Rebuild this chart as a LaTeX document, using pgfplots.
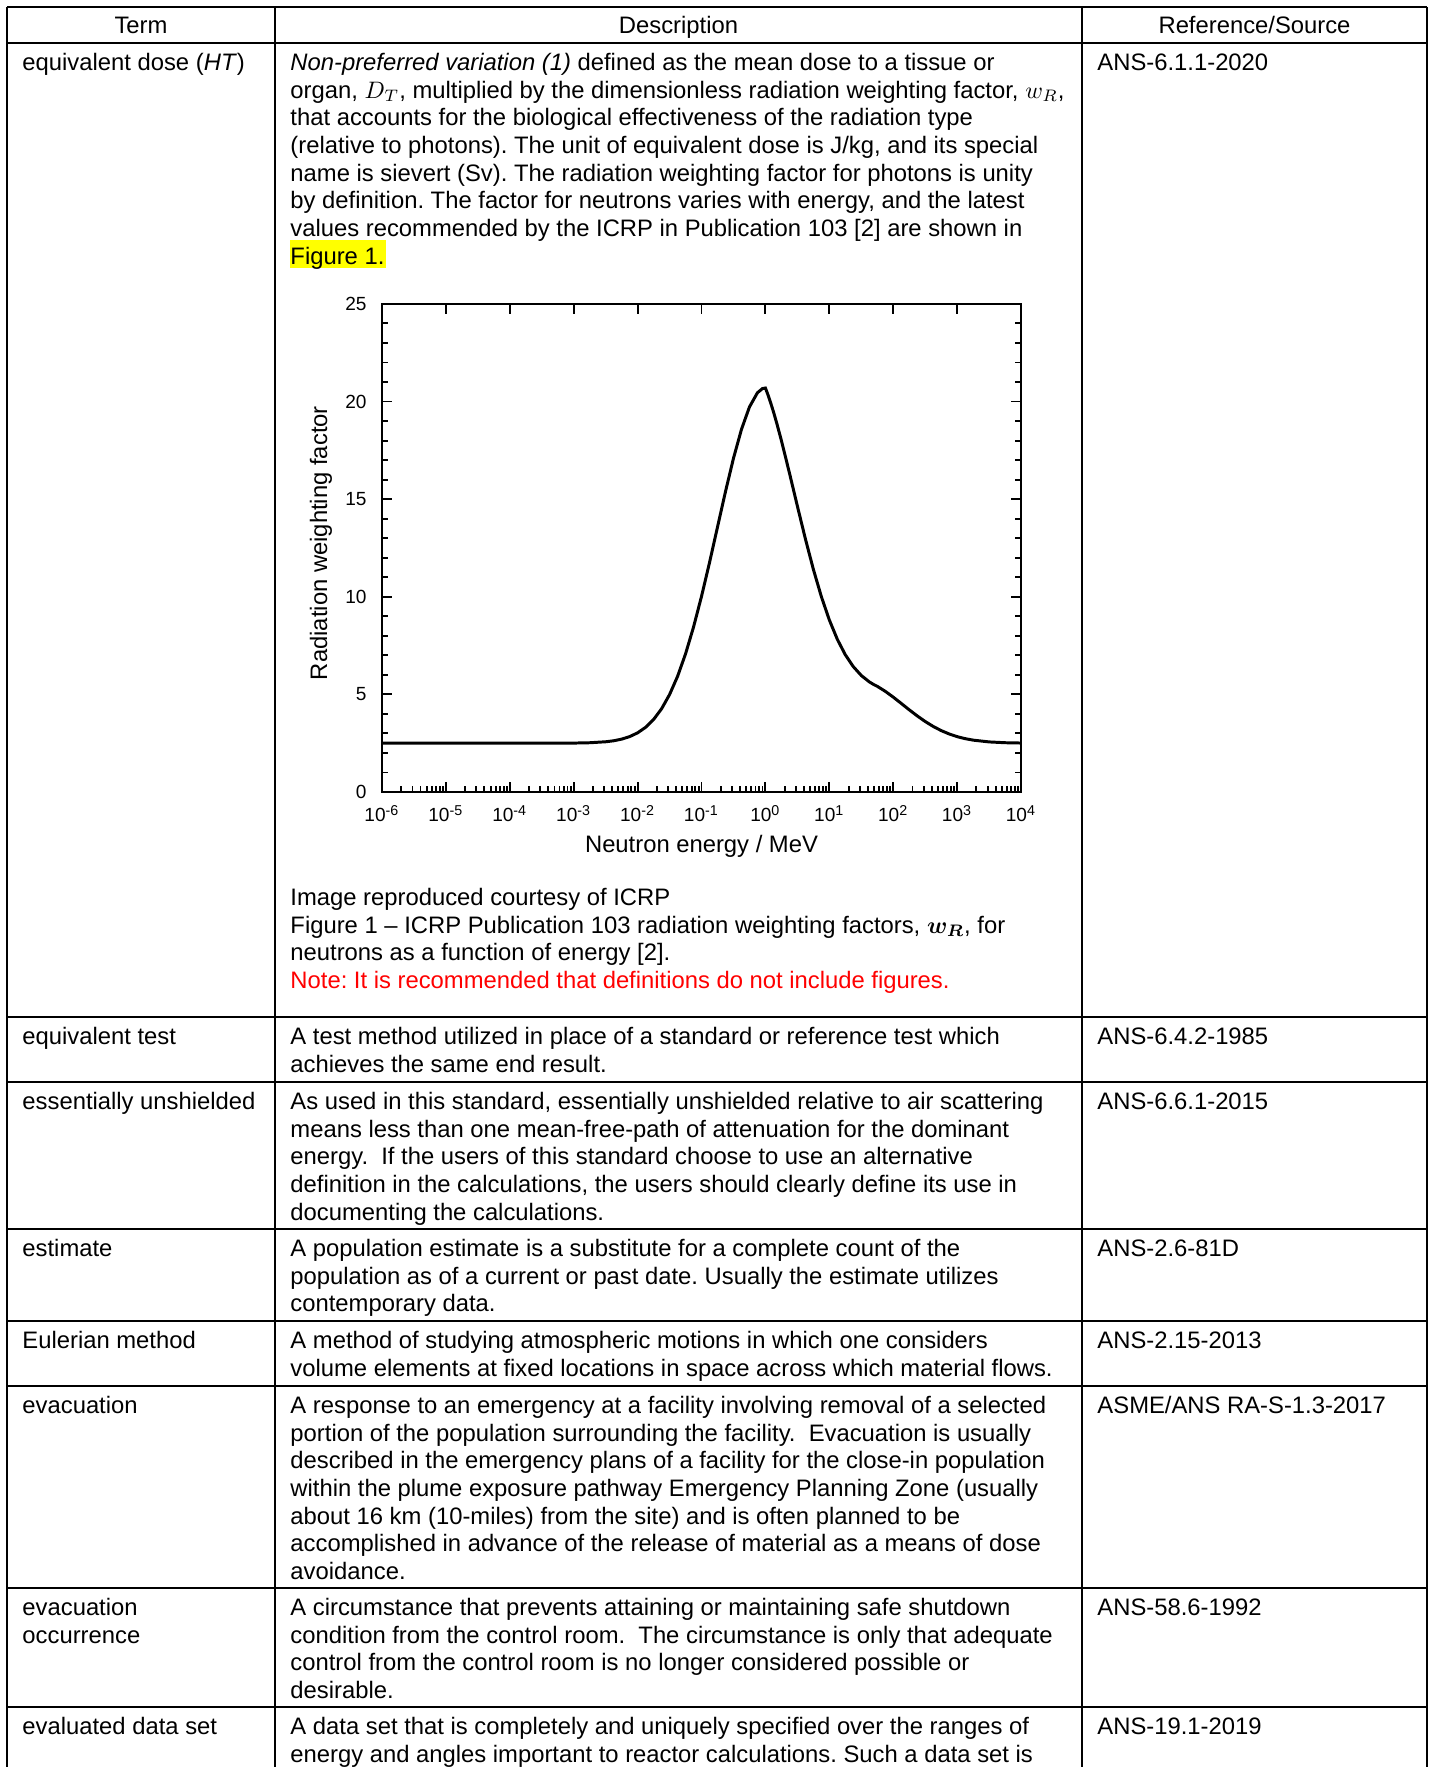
\documentclass[border=0pt]{standalone}
\usepackage{fontspec}
\setmainfont{Liberation Sans}
\usepackage{amsmath}
\usepackage{pgfplots}
\pgfplotsset{compat=1.18}
\definecolor{hl}{RGB}{255,255,0}
\definecolor{notered}{RGB}{255,0,0}
\frenchspacing
\newcommand\fs{\fontsize{10}{11.634}\selectfont}
% text block placed by the baseline of its first line (px units)
\newcommand\celltext[3]{\node[anchor=north west,inner sep=0pt,align=left,font=\fs] at (#1,#2-19.39) {\strut#3};}
\begin{document}
\begin{tikzpicture}
\begin{scope}[x=0.42pt,y=-0.42pt]
\useasboundingbox (0,0) rectangle (1431,1767);
\clip (0,0) rectangle (1431,1767);
% table rules
\foreach \yy in {7,1017,1082,1229,1321,1386,1588,1707}
  \draw[line width=0.85pt] (7,\yy) -- (1427,\yy);
\draw[line width=1.1pt] (7,43) -- (1427,43);
\foreach \xx in {7,275,1082,1427}
  \draw[line width=0.85pt] (\xx,7) -- (\xx,1790);
% header
\node[anchor=base,font=\fs] at (141,34) {Term};
\node[anchor=base,font=\fs] at (678.5,34) {Description};
\node[anchor=base,font=\fs] at (1254.5,34) {Reference/Source};
% row 1
\fill[hl] (290,240.5) rectangle (386,268.2);
\celltext{22}{70}{equivalent dose (\textit{HT})}
\celltext{290}{70}{\textit{Non-preferred variation (1)} defined as the mean dose to a tissue or\\
organ, $D_T$, multiplied by the dimensionless radiation weighting factor, $w_R$,\\
that accounts for the biological effectiveness of the radiation type\\
(relative to photons). The unit of equivalent dose is J/kg, and its special\\
name is sievert (Sv). The radiation weighting factor for photons is unity\\
by definition. The factor for neutrons varies with energy, and the latest\\
values recommended by the ICRP in Publication 103 [2] are shown in\\
Figure 1.}
\celltext{1097}{70}{ANS-6.1.1-2020}
\celltext{290}{905}{Image reproduced courtesy of ICRP\\
Figure 1 -- ICRP Publication 103 radiation weighting factors, $\boldsymbol{w_R}$, for\\
neutrons as a function of energy [2].\\
\textcolor{notered}{Note: It is recommended that definitions do not include figures.}}
% row 2
\celltext{22}{1044}{equivalent test}
\celltext{290}{1044}{A test method utilized in place of a standard or reference test which\\
achieves the same end result.}
\celltext{1097}{1044}{ANS-6.4.2-1985}
% row 3
\celltext{22}{1109}{essentially unshielded}
\celltext{290}{1109}{As used in this standard, essentially unshielded relative to air scattering\\
means less than one mean-free-path of attenuation for the dominant\\
energy.~ If the users of this standard choose to use an alternative\\
definition in the calculations, the users should clearly define its use in\\
documenting the calculations.}
\celltext{1097}{1109}{ANS-6.6.1-2015}
% row 4
\celltext{22}{1256}{estimate}
\celltext{290}{1256}{A population estimate is a substitute for a complete count of the\\
population as of a current or past date. Usually the estimate utilizes\\
contemporary data.}
\celltext{1097}{1256}{ANS-2.6-81D}
% row 5
\celltext{22}{1348}{Eulerian method}
\celltext{290}{1348}{A method of studying atmospheric motions in which one considers\\
volume elements at fixed locations in space across which material flows.}
\celltext{1097}{1348}{ANS-2.15-2013}
% row 6
\celltext{22}{1413}{evacuation}
\celltext{290}{1413}{A response to an emergency at a facility involving removal of a selected\\
portion of the population surrounding the facility.~ Evacuation is usually\\
described in the emergency plans of a facility for the close-in population\\
within the plume exposure pathway Emergency Planning Zone (usually\\
about 16 km (10-miles) from the site) and is often planned to be\\
accomplished in advance of the release of material as a means of dose\\
avoidance.}
\celltext{1097}{1413}{ASME/ANS RA-S-1.3-2017}
% row 7
\celltext{22}{1615}{evacuation\\occurrence}
\celltext{290}{1615}{A circumstance that prevents attaining or maintaining safe shutdown\\
condition from the control room.~ The circumstance is only that adequate\\
control from the control room is no longer considered possible or\\
desirable.}
\celltext{1097}{1615}{ANS-58.6-1992}
% row 8
\celltext{22}{1734}{evaluated data set}
\celltext{290}{1734}{A data set that is completely and uniquely specified over the ranges of\\
energy and angles important to reactor calculations. Such a data set is}
\celltext{1097}{1734}{ANS-19.1-2019}
\coordinate (axsw) at (382,792);
\end{scope}

% the figure
\begin{axis}[
  at={(axsw)}, anchor=south west,
  scale only axis, width=268.4pt, height=205pt,
  xmode=log, xmin=1e-6, xmax=1e4, ymin=0, ymax=25,
  xtick={1e-6,1e-5,1e-4,1e-3,1e-2,1e-1,1,1e1,1e2,1e3,1e4},
  xticklabels={10\textsuperscript{-6},10\textsuperscript{-5},10\textsuperscript{-4},10\textsuperscript{-3},10\textsuperscript{-2},10\textsuperscript{-1},10\textsuperscript{0},10\textsuperscript{1},10\textsuperscript{2},10\textsuperscript{3},10\textsuperscript{4}},
  minor xtick={2e-6,3e-6,4e-6,5e-6,6e-6,7e-6,8e-6,9e-6,
    2e-5,3e-5,4e-5,5e-5,6e-5,7e-5,8e-5,9e-5,
    2e-4,3e-4,4e-4,5e-4,6e-4,7e-4,8e-4,9e-4,
    2e-3,3e-3,4e-3,5e-3,6e-3,7e-3,8e-3,9e-3,
    2e-2,3e-2,4e-2,5e-2,6e-2,7e-2,8e-2,9e-2,
    0.2,0.3,0.4,0.5,0.6,0.7,0.8,0.9,
    2,3,4,5,6,7,8,9,
    20,30,40,50,60,70,80,90,
    200,300,400,500,600,700,800,900,
    2000,3000,4000,5000,6000,7000,8000,9000},
  xtick pos=left,
  ytick={0,5,10,15,20,25}, yticklabels={0,5,10,15,20,25},
  minor y tick num=4, ytick pos=both,
  tick align=inside,
  major tick length=4.2pt, minor tick length=2.5pt,
  tick style={line width=0.8pt, black},
  axis line style={line width=0.9pt},
  tick label style={font=\fontsize{8}{9.6}\selectfont},
  yticklabel style={xshift=-3pt},
  xticklabel style={yshift=-2pt},
  xlabel={Neutron energy / MeV},
  ylabel={Radiation weighting factor},
  label style={font=\fs},
  xlabel style={at={(axis description cs:0.5,-0.123)}, anchor=base},
  ylabel style={at={(axis description cs:-0.0955,0.51)}, anchor=center},
]
\addplot[black, line width=1.25pt] coordinates {
(1e-6,2.5) (1e-5,2.5) (1e-4,2.5) (1e-3,2.506) (1.778e-3,2.523)
(3.162e-3,2.573) (4.217e-3,2.624) (5.623e-3,2.708) (7.499e-3,2.837)
(1e-2,3.031) (1.334e-2,3.315) (1.778e-2,3.714) (2.371e-2,4.263)
(3.162e-2,4.992) (4.217e-2,5.923) (5.623e-2,7.076) (7.499e-2,8.45)
(0.1,10.022) (0.1334,11.753) (0.1778,13.571) (0.2371,15.388)
(0.3162,17.093) (0.4217,18.574) (0.5623,19.722) (0.75,20.45)
(0.9,20.666) (1,20.69) (1.1,20.327) (1.2,19.96) (1.334,19.48)
(1.5,18.90) (1.778,18.0) (2.371,16.35) (3.162,14.642) (4.217,12.968)
(5.623,11.405) (7.499,10.008) (10,8.81) (13.34,7.819) (17.78,7.028)
(23.71,6.421) (31.62,5.968) (42.17,5.641) (50,5.496) (56.23,5.413)
(75,5.158) (100,4.859) (133.4,4.537) (177.8,4.211) (237.1,3.898)
(316.2,3.611) (421.7,3.359) (562.3,3.146) (749.9,2.973) (1000,2.836)
(1334,2.733) (1778,2.657) (3162,2.565) (5623,2.524) (10000,2.508)
};
\end{axis}
% top ticks: majors only
\begin{axis}[
  at={(axsw)}, anchor=south west,
  scale only axis, width=268.4pt, height=205pt,
  xmode=log, xmin=1e-6, xmax=1e4, ymin=0, ymax=25,
  hide y axis,
  xtick={1e-6,1e-5,1e-4,1e-3,1e-2,1e-1,1,1e1,1e2,1e3,1e4},
  xticklabels={}, xtick pos=right,
  minor x tick style={draw=none},
  tick align=inside, major tick length=4.2pt,
  tick style={line width=0.8pt, black},
  axis line style={line width=0.9pt},
]
\addplot[draw=none] coordinates {(1,1)};
\end{axis}
\end{tikzpicture}
\end{document}
